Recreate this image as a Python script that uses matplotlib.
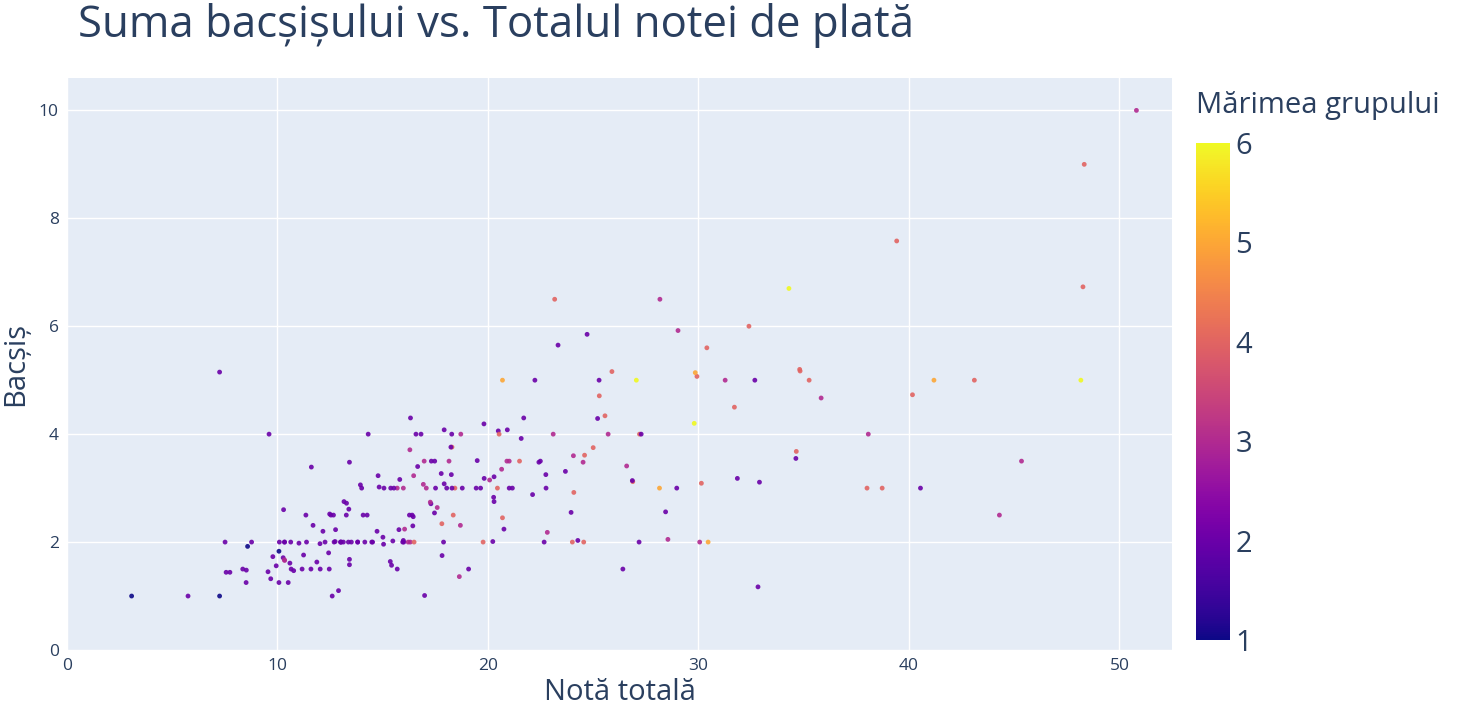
import matplotlib
matplotlib.use("Agg")
import matplotlib.pyplot as plt
import numpy as np

plt.rcParams['font.family'] = ['Open Sans', 'DejaVu Sans']

total_bill = [16.99,10.34,21.01,23.68,24.59,25.29,8.77,26.88,15.04,14.78,10.27,35.26,15.42,18.43,14.83,21.58,10.33,16.29,16.97,20.65,17.92,20.29,15.77,39.42,19.82,17.81,13.37,12.69,21.7,19.65,9.55,18.35,15.06,20.69,17.78,24.06,16.31,16.93,18.69,31.27,16.04,17.46,13.94,9.68,30.4,18.29,22.23,32.4,28.55,18.04,12.54,10.29,34.81,9.94,25.56,19.49,38.01,26.41,11.24,48.27,20.29,13.81,11.02,18.29,17.59,20.08,16.45,3.07,20.23,15.01,12.02,17.07,26.86,25.28,14.73,10.51,17.92,27.2,22.76,17.29,19.44,16.66,10.07,32.68,15.98,34.83,13.03,18.28,24.71,21.16,28.97,22.49,5.75,16.32,22.75,40.17,27.28,12.03,21.01,12.46,11.35,15.38,44.3,22.42,20.92,15.36,20.49,25.21,18.24,14.31,14.0,7.25,38.07,23.95,25.71,17.31,29.93,10.65,12.43,24.08,11.69,13.42,14.26,15.95,12.48,29.8,8.52,14.52,11.38,22.82,19.08,20.27,11.17,12.26,18.26,8.51,10.33,14.15,16.0,13.16,17.47,34.3,41.19,27.05,16.43,8.35,18.64,11.87,9.78,7.51,14.07,13.13,17.26,24.55,19.77,29.85,48.17,25.0,13.39,16.49,21.5,12.66,16.21,13.81,17.51,24.52,20.76,31.71,10.59,10.63,50.81,15.81,7.25,31.85,16.82,32.9,17.89,14.48,9.6,34.63,34.65,23.33,45.35,23.17,40.55,20.69,20.9,30.46,18.15,23.1,15.69,19.81,28.44,15.48,16.58,7.56,10.34,43.11,13.0,13.51,18.71,12.74,13.0,16.4,20.53,16.47,26.59,38.73,24.27,12.76,30.06,25.89,48.33,13.27,28.17,12.9,28.15,11.59,7.74,30.14,12.16,13.42,8.58,15.98,13.42,16.27,10.09,20.45,13.28,22.12,24.01,15.69,11.61,10.77,15.53,10.07,12.6,32.83,35.83,29.03,27.18,22.67,17.82,18.78]
tip = [1.01,1.66,3.5,3.31,3.61,4.71,2.0,3.12,1.96,3.23,1.71,5.0,1.57,3.0,3.02,3.92,1.67,3.71,3.5,3.35,4.08,2.75,2.23,7.58,3.18,2.34,2.0,2.0,4.3,3.0,1.45,2.5,3.0,2.45,3.27,3.6,2.0,3.07,2.31,5.0,2.24,2.54,3.06,1.32,5.6,3.0,5.0,6.0,2.05,3.0,2.5,2.6,5.2,1.56,4.34,3.51,3.0,1.5,1.76,6.73,3.21,2.0,1.98,3.76,2.64,3.15,2.47,1.0,2.01,2.09,1.97,3.0,3.14,5.0,2.2,1.25,3.08,4.0,3.0,2.71,3.0,3.4,1.83,5.0,2.03,5.17,2.0,4.0,5.85,3.0,3.0,3.5,1.0,4.3,3.25,4.73,4.0,1.5,3.0,1.5,2.5,3.0,2.5,3.48,4.08,1.64,4.06,4.29,3.76,4.0,3.0,1.0,4.0,2.55,4.0,3.5,5.07,1.5,1.8,2.92,2.31,1.68,2.5,2.0,2.52,4.2,1.48,2.0,2.0,2.18,1.5,2.83,1.5,2.0,3.25,1.25,2.0,2.0,2.0,2.75,3.5,6.7,5.0,5.0,2.3,1.5,1.36,1.63,1.73,2.0,2.5,2.0,2.74,2.0,2.0,5.14,5.0,3.75,2.61,2.0,3.5,2.5,2.0,2.0,3.0,3.48,2.24,4.5,1.61,2.0,10.0,3.16,5.15,3.18,4.0,3.11,2.0,2.0,4.0,3.55,3.68,5.65,3.5,6.5,3.0,5.0,3.5,2.0,3.5,4.0,1.5,4.19,2.56,2.02,4.0,1.44,2.0,5.0,2.0,2.0,4.0,2.01,2.0,2.5,4.0,3.23,3.41,3.0,2.03,2.23,2.0,5.16,9.0,2.5,6.5,1.1,3.0,1.5,1.44,3.09,2.2,3.48,1.92,3.0,1.58,2.5,2.0,3.0,2.72,2.88,2.0,3.0,3.39,1.47,3.0,1.25,1.0,1.17,4.67,5.92,2.0,2.0,1.75,3.0]
size = [2,3,3,2,4,4,2,4,2,2,2,4,2,4,2,2,3,3,3,3,2,2,2,4,2,4,2,2,2,2,2,4,2,4,2,3,3,3,3,3,3,2,2,2,4,2,2,4,3,2,2,2,4,2,4,2,4,2,2,4,2,2,2,4,3,3,2,1,2,2,2,3,2,2,2,2,2,4,2,2,2,2,1,2,2,4,2,2,2,2,2,2,2,2,2,4,2,2,2,2,2,2,3,2,2,2,2,2,2,2,2,1,3,2,3,2,4,2,2,4,2,2,2,2,2,6,2,2,2,3,2,2,2,2,2,2,2,2,2,2,2,6,5,6,2,2,3,2,2,2,2,2,3,4,4,5,6,4,2,4,4,2,3,2,2,3,2,4,2,2,3,2,2,2,2,2,2,2,2,2,4,2,3,4,2,5,3,5,3,3,2,2,2,2,2,2,2,4,2,2,3,2,2,2,4,3,3,4,2,2,3,4,4,2,3,2,5,2,2,4,2,2,1,3,2,2,2,4,2,2,4,3,2,2,2,2,2,2,3,3,2,2,2,2]

W, H = 1464, 720
fig = plt.figure(figsize=(W/100, H/100), dpi=100)
ax = fig.add_axes([67/W, 1-650/H, (1172-67)/W, (650-78)/H])
ax.set_facecolor("#E5ECF6")
sc = ax.scatter(total_bill, tip, c=size, cmap="plasma", vmin=1, vmax=6, s=12,
                edgecolors="none", alpha=0.9, zorder=3)
ax.set_xlim(0, 52.5)
ax.set_ylim(0, 10.6)
ax.set_xticks(range(0, 51, 10))
ax.set_yticks(range(0, 11, 2))
ax.grid(color="white", linewidth=1, zorder=0)
ax.set_axisbelow(True)
for s in ax.spines.values():
    s.set_visible(False)
ax.tick_params(length=0, labelsize=12.5, colors="#2a3f5f", pad=6)
ax.set_xlabel("Notă totală", fontsize=21, color="#2a3f5f", labelpad=3)
ax.set_ylabel("Bacșiș", fontsize=21, color="#2a3f5f", labelpad=6)
fig.text(78/W, 1-25/H, "Suma bacșișului vs. Totalul notei de plată", fontsize=31.5,
         color="#2a3f5f", va="center", ha="left")

cax = fig.add_axes([1196/W, 1-640/H, 34/W, (640-143)/H])
cb = fig.colorbar(sc, cax=cax)
cb.solids.set_alpha(1)
cb.outline.set_visible(False)
cb.set_ticks([1, 2, 3, 4, 5, 6])
cax.tick_params(length=0, labelsize=21, colors="#2a3f5f", pad=4)
fig.text(1196/W, 1-105/H, "Mărimea grupului", fontsize=21, color="#2a3f5f",
         va="center", ha="left")
fig.savefig("out.png", dpi=100)
